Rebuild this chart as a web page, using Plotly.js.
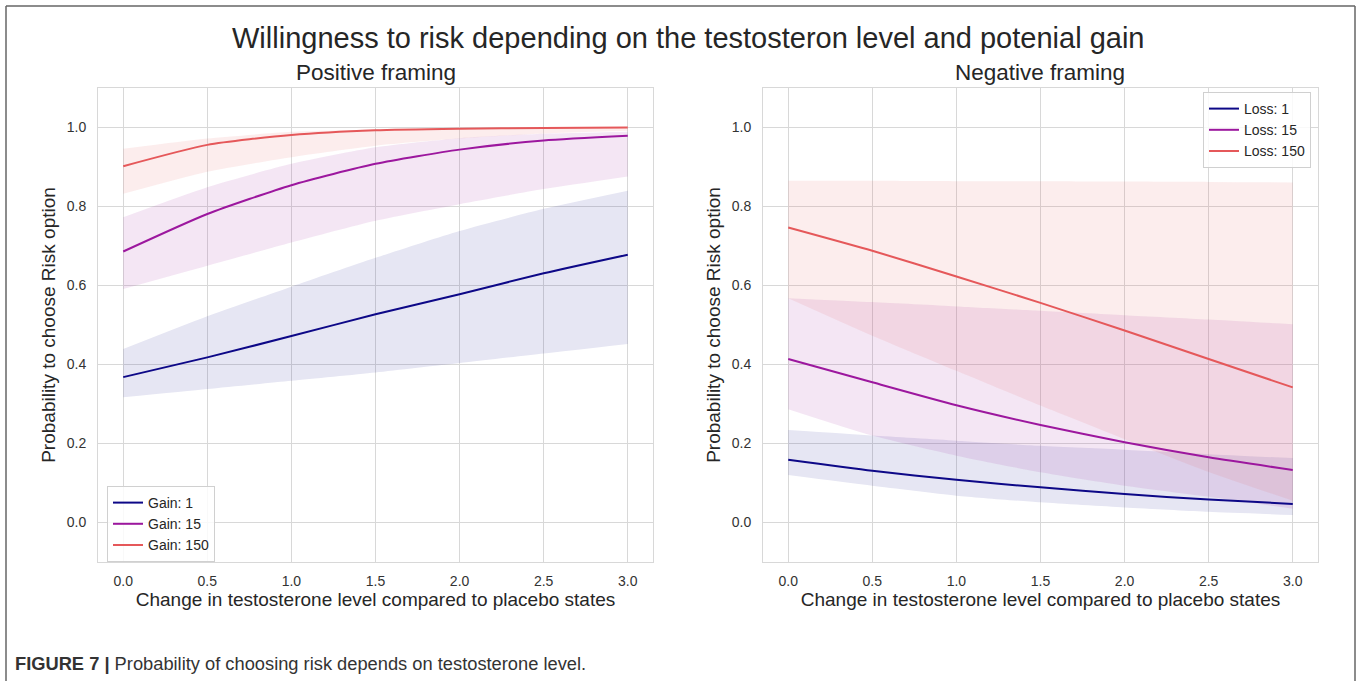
<!DOCTYPE html>
<html>
<head>
<meta charset="utf-8">
<script src="https://cdn.plot.ly/plotly-3.0.1.min.js"></script>
<style>
html,body{margin:0;padding:0;background:#fff;}
#chart{width:1360px;height:681px;}
</style>
</head>
<body>
<div id="chart"></div>
<script>
// ---- data ----
const xs = [0, 0.5, 1.0, 1.5, 2.0, 2.5, 3.0];

// Positive framing
const gainLabels = ['Gain: 1', 'Gain: 15', 'Gain: 150'];
const gain1     = [0.368, 0.418, 0.472, 0.527, 0.578, 0.631, 0.678];
const gain1Up   = [0.439, 0.522, 0.597, 0.670, 0.738, 0.794, 0.840];
const gain1Lo   = [0.317, 0.338, 0.359, 0.380, 0.404, 0.428, 0.452];
const gain15    = [0.686, 0.781, 0.854, 0.908, 0.944, 0.967, 0.979];
const gain15Up  = [0.773, 0.849, 0.908, 0.950, 0.973, 0.984, 0.989];
const gain15Lo  = [0.591, 0.650, 0.709, 0.764, 0.806, 0.844, 0.876];
const gain150   = [0.902, 0.956, 0.981, 0.993, 0.997, 0.999, 1.000];
const gain150Up = [0.946, 0.972, 0.989, 0.995, 0.998, 0.999, 1.000];
const gain150Lo = [0.832, 0.888, 0.925, 0.954, 0.972, 0.985, 0.992];

// Negative framing
const lossLabels = ['Loss: 1', 'Loss: 15', 'Loss: 150'];
const loss1     = [0.159, 0.131, 0.108, 0.089, 0.072, 0.058, 0.047];
const loss1Up   = [0.234, 0.220, 0.207, 0.194, 0.184, 0.173, 0.163];
const loss1Lo   = [0.120, 0.093, 0.068, 0.051, 0.038, 0.027, 0.019];
const loss15    = [0.414, 0.355, 0.297, 0.247, 0.203, 0.165, 0.133];
const loss15Up  = [0.568, 0.558, 0.547, 0.536, 0.525, 0.514, 0.502];
const loss15Lo  = [0.287, 0.220, 0.169, 0.127, 0.093, 0.065, 0.035];
const loss150   = [0.747, 0.688, 0.623, 0.556, 0.486, 0.414, 0.342];
const loss150Up = [0.865, 0.865, 0.864, 0.864, 0.863, 0.862, 0.861];
const loss150Lo = [0.568, 0.473, 0.384, 0.296, 0.211, 0.128, 0.055];

const xTicks = [0, 0.5, 1.0, 1.5, 2.0, 2.5, 3.0];
const xTickText = ['0.0', '0.5', '1.0', '1.5', '2.0', '2.5', '3.0'];
const yTicks = [0, 0.2, 0.4, 0.6, 0.8, 1.0];
const yTickText = ['0.0', '0.2', '0.4', '0.6', '0.8', '1.0'];

// ---- styling ----
const colors = ['#0d0887', '#9c179e', '#e5585a'];
const fills = ['rgba(13,8,135,0.10)', 'rgba(156,23,158,0.11)', 'rgba(229,88,90,0.11)'];
const FONT = 'Liberation Sans, Arial, Helvetica, sans-serif';

const traces = [];
function addGroup(xa, ya, legendId, labels, series) {
  series.forEach((s, i) => {
    traces.push({x: xs, y: s.lo, xaxis: xa, yaxis: ya, type: 'scatter', mode: 'lines',
      line: {width: 0, shape: 'spline', smoothing: 0.6}, showlegend: false, hoverinfo: 'skip'});
    traces.push({x: xs, y: s.up, xaxis: xa, yaxis: ya, type: 'scatter', mode: 'lines',
      fill: 'tonexty', fillcolor: fills[i],
      line: {width: 0, shape: 'spline', smoothing: 0.6}, showlegend: false, hoverinfo: 'skip'});
  });
  series.forEach((s, i) => {
    traces.push({x: xs, y: s.mid, xaxis: xa, yaxis: ya, type: 'scatter', mode: 'lines',
      name: labels[i], legend: legendId,
      line: {color: colors[i], width: 2, shape: 'spline', smoothing: 0.6}, hoverinfo: 'skip'});
  });
}
addGroup('x', 'y', 'legend', gainLabels, [
  {lo: gain1Lo, up: gain1Up, mid: gain1},
  {lo: gain15Lo, up: gain15Up, mid: gain15},
  {lo: gain150Lo, up: gain150Up, mid: gain150}
]);
addGroup('x2', 'y2', 'legend2', lossLabels, [
  {lo: loss1Lo, up: loss1Up, mid: loss1},
  {lo: loss15Lo, up: loss15Up, mid: loss15},
  {lo: loss150Lo, up: loss150Up, mid: loss150}
]);

const W = 1360, H = 681;
const px = v => v / W;
const py = v => 1 - v / H;

function xaxis(domain) {
  return {
    domain: domain, range: [-0.15, 3.15], tickvals: xTicks, ticktext: xTickText,
    showgrid: true, gridcolor: '#d8d8d8', gridwidth: 1, zeroline: false,
    showline: true, mirror: true, linecolor: '#d8d8d8', linewidth: 1,
    ticks: '', ticklabelstandoff: 6,
    tickfont: {family: FONT, size: 14, color: '#333'},
    title: {text: 'Change in testosterone level compared to placebo states',
      font: {family: FONT, size: 19, color: '#262626'}, standoff: 4},
    automargin: false, fixedrange: true
  };
}
function yaxis(anchor) {
  return {
    domain: [py(562), py(88)], range: [-0.1, 1.1], tickvals: yTicks, ticktext: yTickText,
    anchor: anchor,
    showgrid: true, gridcolor: '#d8d8d8', gridwidth: 1, zeroline: false,
    showline: true, mirror: true, linecolor: '#d8d8d8', linewidth: 1,
    ticks: '', ticklabelstandoff: 8,
    tickfont: {family: FONT, size: 14, color: '#333'},
    title: {text: 'Probability to choose Risk option',
      font: {family: FONT, size: 19, color: '#262626'}, standoff: 6},
    automargin: false, fixedrange: true
  };
}

const legendCommon = {
  bgcolor: 'rgba(255,255,255,0.85)', bordercolor: '#d0d0d0', borderwidth: 1,
  font: {family: FONT, size: 14, color: '#262626'}, tracegroupgap: 0, itemwidth: 30,
  traceorder: 'normal'
};

const layout = {
  width: W, height: H,
  margin: {l: 0, r: 0, t: 0, b: 0},
  paper_bgcolor: '#fff', plot_bgcolor: '#fff',
  showlegend: true,
  xaxis: Object.assign(xaxis([px(98), px(653)]), {anchor: 'y'}),
  yaxis: yaxis('x'),
  xaxis2: Object.assign(xaxis([px(763), px(1318)]), {anchor: 'y2'}),
  yaxis2: yaxis('x2'),
  legend: Object.assign({x: px(107), y: py(486), xanchor: 'left', yanchor: 'top'}, legendCommon),
  legend2: Object.assign({x: px(1311), y: py(92), xanchor: 'right', yanchor: 'top'}, legendCommon),
  annotations: [
    {text: 'Willingness to risk depending on the testosteron level and potenial gain',
      x: px(688), y: py(38), xref: 'paper', yref: 'paper', showarrow: false,
      xanchor: 'center', yanchor: 'middle', font: {family: FONT, size: 29, color: '#262626'}},
    {text: 'Positive framing', x: px(376), y: py(72), xref: 'paper', yref: 'paper', showarrow: false,
      xanchor: 'center', yanchor: 'middle', font: {family: FONT, size: 22.5, color: '#262626'}},
    {text: 'Negative framing', x: px(1040), y: py(72), xref: 'paper', yref: 'paper', showarrow: false,
      xanchor: 'center', yanchor: 'middle', font: {family: FONT, size: 22.5, color: '#262626'}},
    {text: '<b>FIGURE 7 |</b> Probability of choosing risk depends on testosterone level.',
      x: px(13), y: py(663), xref: 'paper', yref: 'paper', showarrow: false,
      xanchor: 'left', yanchor: 'middle',
      font: {family: FONT, size: 18.3, color: '#333'}}
  ],
  shapes: [
    {type: 'line', xref: 'paper', yref: 'paper', x0: px(6), x1: px(1355), y0: py(6), y1: py(6),
      line: {color: '#666', width: 1.5}},
    {type: 'line', xref: 'paper', yref: 'paper', x0: px(6), x1: px(6), y0: py(6), y1: 0,
      line: {color: '#666', width: 1.5}},
    {type: 'line', xref: 'paper', yref: 'paper', x0: px(1355), x1: px(1355), y0: py(6), y1: 0,
      line: {color: '#666', width: 1.5}}
  ],
  hovermode: false
};

Plotly.newPlot('chart', traces, layout, {displayModeBar: false, staticPlot: true});
</script>
</body>
</html>
